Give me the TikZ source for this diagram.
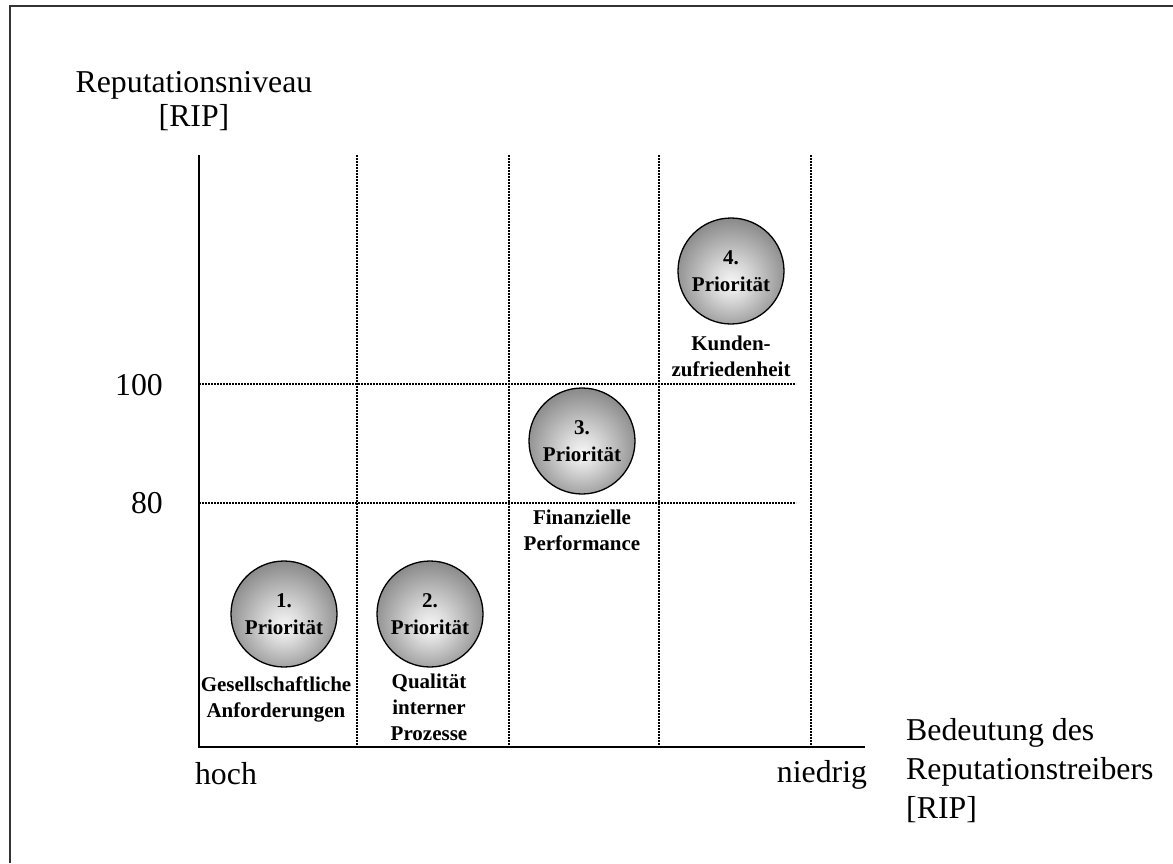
\documentclass[tikz,border=0pt]{standalone}
\usepackage{fontspec}
\setmainfont{Liberation Serif}
\pgfdeclareradialshading{ballshade}{\pgfpoint{0bp}{-6bp}}{color(0bp)=(white!97!black); color(8bp)=(white!86!black); color(30bp)=(black!50); color(50bp)=(black!74)}
\begin{document}
\begin{tikzpicture}[x=1pt,y=-1pt,
  big/.style={font=\fontsize{31.8}{38}\selectfont, inner sep=0pt},
  lbl/.style={font=\fontsize{21}{26}\selectfont\bfseries, align=center, inner sep=0pt},
  ball/.style={circle, draw=black, line width=1.3pt, minimum size=106pt, inner sep=0pt, shading=ballshade, align=center, font=\fontsize{21}{27}\selectfont\bfseries},
  gridline/.style={line width=1.1pt, dash pattern=on 2pt off 1pt},
  axis/.style={line width=1.1pt}]
\useasboundingbox (0,0) rectangle (1173,863);
% frame
\draw[line width=1.4pt, black!80] (10,863) -- (10,6) -- (1173,6);
% axes
\coordinate (O) at (199,747);
\coordinate (ytop) at (199,155);
\coordinate (xend) at (865,747);
\draw[axis] (ytop) -- (O) -- (xend);
% vertical grid
\foreach \n/\x in {a/357,b/509,c/659,d/811}{
  \coordinate (v\n t) at (\x,155);
  \coordinate (v\n b) at (\x,747);
  \draw[gridline] (v\n t) -- (v\n b);
}
% horizontal grid
\coordinate (h100l) at (199,384); \coordinate (h100r) at (796,384);
\coordinate (h80l) at (199,503); \coordinate (h80r) at (796,503);
\draw[gridline] (h100l) -- (h100r);
\draw[gridline] (h80l) -- (h80r);
% axis labels
\node[big, anchor=base] (ylab1) at (194,92) {Reputationsniveau};
\node[big, anchor=base] (ylab2) at (194,126) {[RIP]};
\node[big, anchor=east] (t100) at (163,385) {100};
\node[big, anchor=east] (t80) at (163,503) {80};
\node[big, anchor=base] (hoch) at (226,784) {hoch};
\node[big, anchor=base] (niedrig) at (822,782) {niedrig};
\node[big, anchor=base west] (xlab1) at (906,740) {Bedeutung des};
\node[big, anchor=base west] (xlab2) at (906,779) {Reputationstreibers};
\node[big, anchor=base west] (xlab3) at (906,818) {[RIP]};
% balls
\node[ball] (p1) at (284,614) {1.\\Priorität};
\node[ball] (p2) at (430,614) {2.\\Priorität};
\node[ball] (p3) at (582,441) {3.\\Priorität};
\node[ball] (p4) at (731,271) {4.\\Priorität};
% labels
\node[lbl] (l1) at (276,699) {Gesellschaftliche\\Anforderungen};
\node[lbl] (l2) at (429,707) {Qualität\\interner\\Prozesse};
\node[lbl] (l3) at (582,530) {Finanzielle\\Performance};
\node[lbl] (l4) at (731,356) {Kunden-\\zufriedenheit};
\end{tikzpicture}
\end{document}
